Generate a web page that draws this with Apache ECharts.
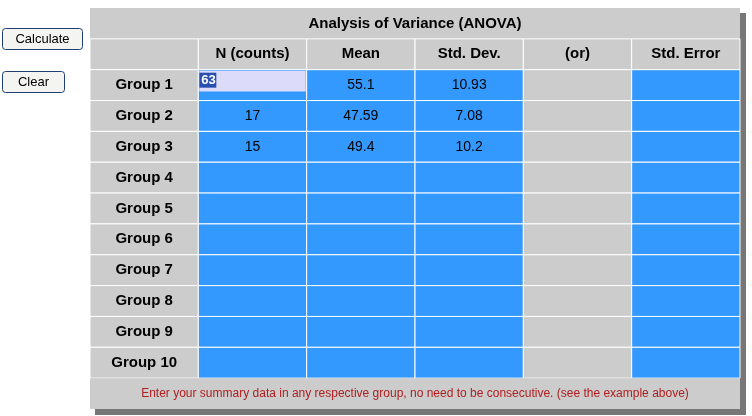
<!DOCTYPE html>
<html lang="en">
<head>
    <meta charset="utf-8">
    <title>ANOVA</title>
    <script src="https://cdn.jsdelivr.net/npm/echarts@6/dist/echarts.min.js"></script>
</head>
<body style="margin:0;background:#fff">
    <div id="main" style="width:752px;height:416px;"></div>
    <script type="text/javascript">
    var title = 'Analysis of Variance (ANOVA)';
    var headers = ['', 'N (counts)', 'Mean', 'Std. Dev.', '(or)', 'Std. Error'];
    var groups = ['Group 1','Group 2','Group 3','Group 4','Group 5','Group 6','Group 7','Group 8','Group 9','Group 10'];
    var counts = ['63', '17', '15', '', '', '', '', '', '', ''];
    var means = ['55.1', '47.59', '49.4', '', '', '', '', '', '', ''];
    var stdDevs = ['10.93', '7.08', '10.2', '', '', '', '', '', '', ''];
    var note = 'Enter your summary data in any respective group, no need to be consecutive. (see the example above)';

    var GREY = '#cccccc', BLUE = '#3399ff';
    var FONT = '"Liberation Sans", Arial, sans-serif';

    // cells: [col, row, text, kind]
    var cells = [];
    cells.push([0, 0, title, 'title']);
    headers.forEach(function (h, c) { cells.push([c, 1, h, 'head']); });
    groups.forEach(function (g, i) {
        var r = i + 2;
        cells.push([0, r, g, 'head']);
        cells.push([1, r, i === 0 ? '' : counts[i], i === 0 ? 'input' : 'blue']);
        cells.push([2, r, means[i], 'blue']);
        cells.push([3, r, stdDevs[i], 'blue']);
        cells.push([4, r, '', 'grey']);
        cells.push([5, r, '', 'blue']);
    });
    cells.push([0, 12, note, 'note']);

    var chart = echarts.init(document.getElementById('main'));

    function renderItem(params, api) {
        var d = cells[params.dataIndex];
        var kind = d[3];
        var p = api.coord([d[0], d[1]]);
        var sz = api.size([1, 1]);
        var w = sz[0], h = sz[1];
        var x = p[0] - w / 2, y = p[1] - h / 2;
        if (kind === 'title' || kind === 'note') w = w * 6;
        var children = [{
            type: 'rect',
            shape: { x: x, y: y, width: w, height: h },
            style: { fill: (kind === 'blue' || kind === 'input') ? BLUE : GREY,
                     stroke: '#ffffff', lineWidth: (kind === 'title' || kind === 'note') ? 0 : 1 }
        }];
        if (kind === 'input') {
            children.push({ type: 'rect', shape: { x: x + 1, y: y + 1, width: w - 2, height: h - 10 },
                style: { fill: '#dcdcfa' } });
            children.push({ type: 'rect', shape: { x: x + 1, y: y + 3, width: 17, height: 15 },
                style: { fill: '#2a4fb0' } });
            children.push({ type: 'text', style: { x: x + 3, y: y + 11, text: counts[0], fill: '#fff',
                font: 'bold 13px ' + FONT, verticalAlign: 'middle' } });
        } else if (d[2]) {
            var font = '14px ' + FONT, fill = '#000';
            if (kind === 'title' || kind === 'head') font = 'bold 15px ' + FONT;
            if (kind === 'note') { font = '12px ' + FONT; fill = '#b02020'; }
            children.push({ type: 'text', style: { x: x + w / 2, y: y + h / 2, text: d[2], fill: fill,
                font: font, align: 'center', verticalAlign: 'middle' } });
        }
        return { type: 'group', children: children };
    }

    chart.setOption({
        animation: false,
        grid: { left: 90, right: 12, top: 8, bottom: 7 },
        xAxis: { type: 'category', data: [0, 1, 2, 3, 4, 5], show: false },
        yAxis: { type: 'category', data: [0,1,2,3,4,5,6,7,8,9,10,11,12], inverse: true, show: false },
        graphic: [
            { type: 'rect', z: -1, shape: { x: 95, y: 13, width: 651, height: 402 }, style: { fill: '#777777' } },
            { type: 'rect', z: -1, shape: { x: 90, y: 8, width: 650, height: 401 }, style: { fill: GREY } },
            { type: 'group', left: 2, top: 28, children: [
                { type: 'rect', shape: { x: 0, y: 0, width: 80, height: 21, r: 3 },
                  style: { fill: '#f4f4f0', stroke: '#1c3f6e', lineWidth: 1 } },
                { type: 'text', style: { x: 40, y: 11, text: 'Calculate', align: 'center', verticalAlign: 'middle',
                  font: '13px ' + FONT, fill: '#000' } }
            ]},
            { type: 'group', left: 2, top: 71, children: [
                { type: 'rect', shape: { x: 0, y: 0, width: 62, height: 21, r: 3 },
                  style: { fill: '#f4f4f0', stroke: '#1c3f6e', lineWidth: 1 } },
                { type: 'text', style: { x: 31, y: 11, text: 'Clear', align: 'center', verticalAlign: 'middle',
                  font: '13px ' + FONT, fill: '#000' } }
            ]}
        ],
        series: [{
            type: 'custom',
            renderItem: renderItem,
            data: cells.map(function (c) { return [c[0], c[1]]; })
        }]
    });
    </script>
</body>
</html>
